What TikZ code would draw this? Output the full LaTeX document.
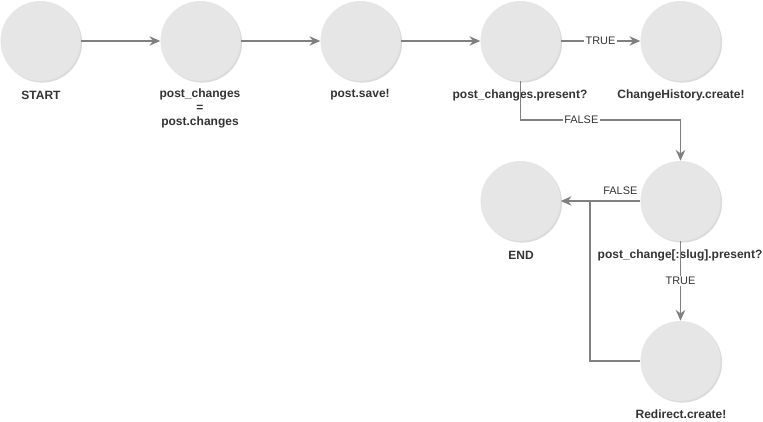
\documentclass[tikz,border=0pt]{standalone}
\usepackage{fontspec}
\setmainfont{Liberation Sans}
\usetikzlibrary{arrows.meta,shadows}
\definecolor{cfill}{HTML}{E6E6E6}
\definecolor{cline}{HTML}{808080}
\definecolor{ctext}{HTML}{333333}
\begin{document}
\begin{tikzpicture}[x=0.75pt,y=-0.75pt,
  state/.style={circle,fill=cfill,minimum size=60pt,inner sep=0pt,draw=none,
    drop shadow={shadow xshift=1.2pt,shadow yshift=-1.2pt,opacity=0.35,fill=black!40}},
  lbl/.style={font=\bfseries\fontsize{9}{10.5}\selectfont,text=ctext,align=center},
  edgelbl/.style={font=\fontsize{8.2}{10}\selectfont,text=ctext,fill=white,inner sep=1pt},
  flow/.style={draw=cline,line width=1.1pt,-{Stealth[length=8pt,width=7pt,inset=2.5pt]}},
  plain/.style={draw=cline,line width=1.1pt}]
\useasboundingbox (0,0) rectangle (763,421);
\node[state] (start) at (40.5,41) {};
\node[state] (pc) at (200.5,41) {};
\node[state] (save) at (360.5,41) {};
\node[state] (present) at (520.5,41) {};
\node[state] (hist) at (680.5,41) {};
\node[state] (slug) at (680.5,201) {};
\node[state] (end) at (520.5,201) {};
\node[state] (redir) at (680.5,361) {};
\node[lbl] (tstart) at (41,95) {START};
\node[lbl] (tpc) at (200,108) {post\_changes\\=\\post.changes};
\node[lbl] (tsave) at (360,95) {post.save!};
\node[lbl] (tpresent) at (520,95) {post\_changes.present?};
\node[lbl] (thist) at (681,95) {ChangeHistory.create!};
\node[lbl] (tend) at (521,255) {END};
\node[lbl] (tredir) at (681,414) {Redirect.create!};
\node[lbl] (tslug) at (680,255) {post\_change[:slug].present?};
\draw[flow] (start) -- (pc);
\draw[flow] (pc) -- (save);
\draw[flow] (save) -- (present);
\draw[flow] (present) -- node[edgelbl]{TRUE} (hist);
\coordinate (f1) at (520.5,120);
\coordinate (f2) at (680.5,120);
\draw[flow] (present.south) -- (f1) -- node[edgelbl,pos=0.38]{FALSE} (f2) -- (slug.north);
\draw[flow] (slug.west) -- node[font=\fontsize{8.2}{10}\selectfont,text=ctext,above=1pt,pos=0.25]{FALSE} (end.east);
\draw[flow] (slug.south) -- node[edgelbl,pos=0.5]{TRUE} (redir.north);
\coordinate (r1) at (590,361);
\coordinate (r2) at (590,201);
\draw[plain] (redir.west) -- (r1) -- (r2);
\end{tikzpicture}
\end{document}
